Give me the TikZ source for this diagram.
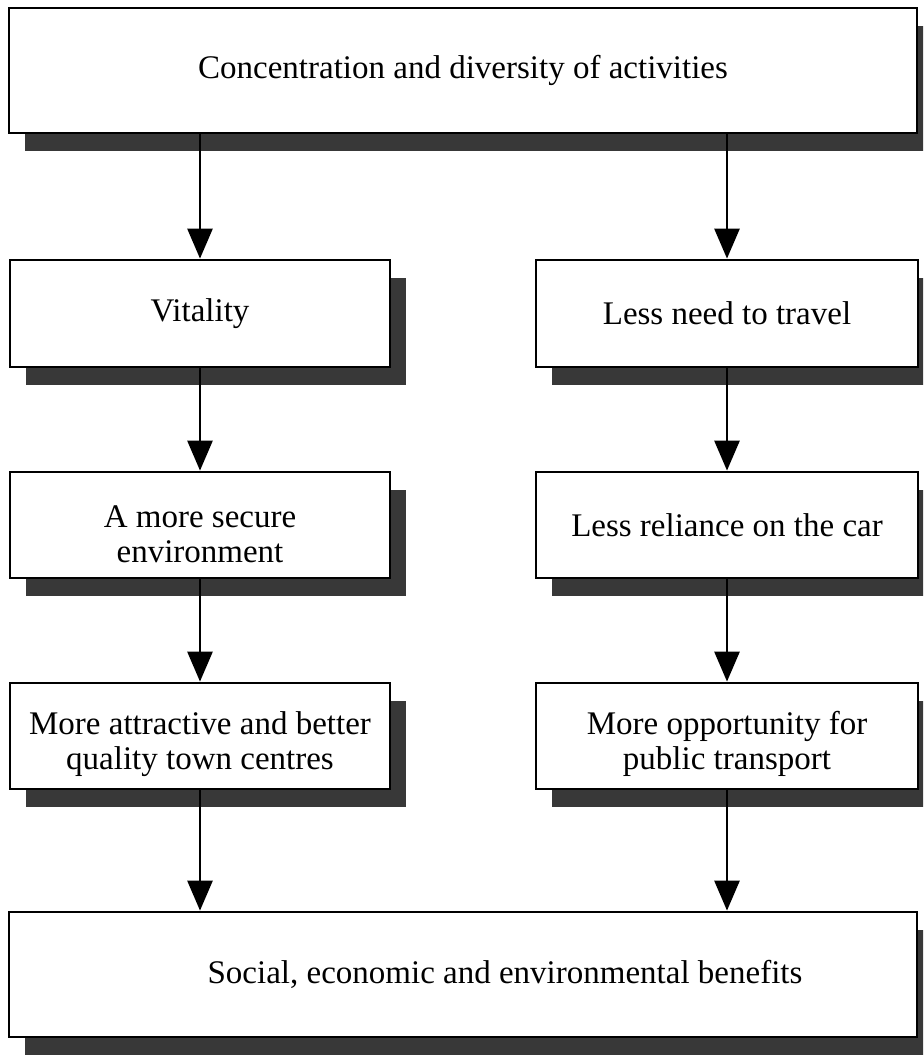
\documentclass[tikz,border=0pt]{standalone}
\usepackage{fontspec}
\setmainfont{Liberation Serif}
\usetikzlibrary{arrows.meta,shadows}
\newcommand{\topgap}{\rule{0pt}{20pt}}
\begin{document}
\begin{tikzpicture}[x=0.5pt,y=-0.5pt]
\tikzstyle{every node}+=[inner sep=0pt,font=\fontsize{16.5}{17.5}\selectfont]
\tikzstyle{box}=[draw=black,line width=1.4pt,fill=white,align=center,
  drop shadow={shadow xshift=8pt,shadow yshift=-9pt,fill=black!78,opacity=1}]
\tikzstyle{arr}=[black,line width=1.4pt,-{Triangle[length=15pt,width=12.5pt]}]
\useasboundingbox (0,0) rectangle (923,1055);
\clip (0,0) rectangle (923,1055);
% top and bottom
\node [box,minimum width=454pt,minimum height=62.5pt] (conc) at (463,70.5) {Concentration and diversity of activities};
\node [box,minimum width=454pt,minimum height=62.5pt] (bene) at (463,974.5) {\hspace*{42pt}Social, economic and environmental benefits};
% left column
\node [box,minimum width=190pt,minimum height=53.5pt] (vita) at (200,313.5) {Vitality};
\node [box,minimum width=190pt,minimum height=53pt] (secu) at (200,525) {\topgap A more secure\\environment};
\node [box,minimum width=190pt,minimum height=53pt] (attr) at (200,736) {\topgap More attractive and better\\quality town centres};
% right column
\node [box,minimum width=191pt,minimum height=53.5pt] (trav) at (727,313.5) {Less need to travel};
\node [box,minimum width=191pt,minimum height=53pt] (relc) at (727,525) {Less reliance on the car};
\node [box,minimum width=191pt,minimum height=53pt] (publ) at (727,736) {\topgap More opportunity for\\public transport};
% arrows
\draw [arr] (conc.south -| vita) -- (vita.north);
\draw [arr] (conc.south -| trav) -- (trav.north);
\draw [arr] (vita.south) -- (secu.north);
\draw [arr] (trav.south) -- (relc.north);
\draw [arr] (secu.south) -- (attr.north);
\draw [arr] (relc.south) -- (publ.north);
\draw [arr] (attr.south) -- (bene.north -| attr);
\draw [arr] (publ.south) -- (bene.north -| publ);
\end{tikzpicture}
\end{document}
